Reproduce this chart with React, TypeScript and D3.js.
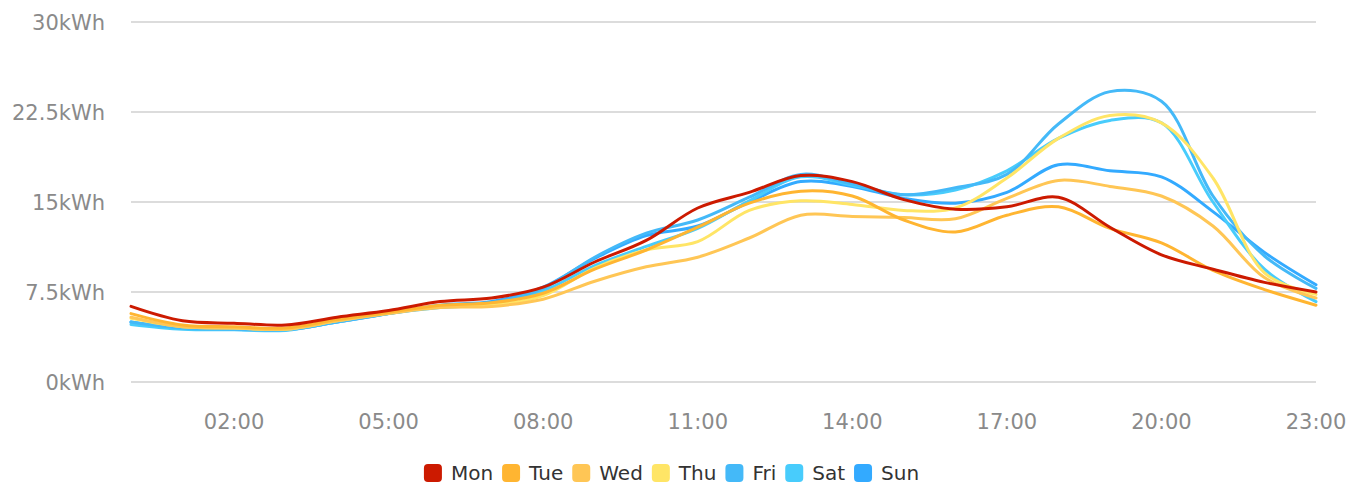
import React from "react";
import * as d3 from "d3";

const hours = d3.range(0, 24);
const xTickHours = [2, 5, 8, 11, 14, 17, 20, 23];
const yTicks = [0, 7.5, 15, 22.5, 30];
const yTickLabels = ["0kWh", "7.5kWh", "15kWh", "22.5kWh", "30kWh"];

const seriesNames = ["Mon", "Tue", "Wed", "Thu", "Fri", "Sat", "Sun"];
const seriesColors = ["#cc1a00", "#ffb531", "#ffc655", "#ffe566", "#44b9f8", "#48ccfc", "#33aaff"];

const mon = [6.3, 5.1, 4.9, 4.75, 5.4, 5.95, 6.7, 7.0, 7.9, 10.0, 11.8, 14.5, 15.8, 17.2, 16.7, 15.2, 14.4, 14.6, 15.4, 12.9, 10.6, 9.4, 8.3, 7.5];
const tue = [5.7, 4.75, 4.6, 4.5, 5.2, 5.8, 6.4, 6.6, 7.4, 9.4, 11.0, 12.9, 14.9, 15.9, 15.5, 13.5, 12.5, 13.9, 14.6, 12.8, 11.6, 9.3, 7.7, 6.4];
const wed = [5.4, 4.6, 4.5, 4.4, 5.1, 5.7, 6.2, 6.3, 6.9, 8.4, 9.6, 10.4, 12.0, 13.9, 13.8, 13.7, 13.6, 15.3, 16.8, 16.3, 15.5, 13.0, 8.7, 7.0];
const thu = [5.3, 4.6, 4.5, 4.4, 5.1, 5.8, 6.3, 6.4, 7.2, 9.5, 11.0, 11.7, 14.3, 15.1, 14.8, 14.3, 14.5, 17.0, 20.3, 22.2, 21.6, 17.0, 9.1, 7.3];
const fri = [5.0, 4.5, 4.4, 4.35, 5.0, 5.7, 6.3, 6.6, 7.8, 10.4, 12.4, 13.5, 15.4, 17.3, 16.5, 15.6, 16.2, 17.3, 21.5, 24.2, 23.4, 15.5, 10.5, 7.8];
const sat = [4.8, 4.4, 4.35, 4.3, 5.0, 5.7, 6.2, 6.5, 7.6, 9.7, 11.3, 12.8, 15.1, 17.1, 16.4, 15.6, 16.0, 17.6, 20.3, 21.8, 21.6, 15.0, 9.4, 6.7];
const sun = [5.0, 4.5, 4.4, 4.35, 5.0, 5.7, 6.4, 6.7, 7.9, 10.3, 12.2, 13.0, 15.0, 16.7, 16.3, 15.3, 14.9, 15.8, 18.1, 17.6, 17.1, 14.2, 10.8, 8.1];

const seriesValues = [mon, tue, wed, thu, fri, sat, sun];

const W = 1349;
const H = 483;
const plotLeft = 131;
const plotRight = 1316;
const plotTop = 22;
const plotBottom = 382;

const FONT = "'DejaVu Sans', Verdana, sans-serif";

function measure(text: string, size: number): number {
  const c = document.createElement("canvas");
  const ctx = c.getContext("2d");
  if (!ctx) return text.length * size * 0.6;
  ctx.font = `${size}px ${FONT}`;
  return ctx.measureText(text).width;
}

export default function App() {
  const x = d3.scaleLinear().domain([0, 23]).range([plotLeft, plotRight]);
  const y = d3.scaleLinear().domain([0, 30]).range([plotBottom, plotTop]);
  const line = d3
    .line<number>()
    .x((_, i) => x(hours[i]))
    .y((d) => y(d))
    .curve(d3.curveCatmullRom.alpha(0.5));

  // legend layout
  const legendSize = 20;
  const sw = 18;
  const gap = 9;
  const itemGap = 9;
  const widths = seriesNames.map((n) => measure(n, legendSize));
  const itemWidths = widths.map((w) => sw + gap + w);
  const total = d3.sum(itemWidths) + itemGap * (seriesNames.length - 1);
  let cursor = W / 2 - total / 2 - 3;
  const legendItems = seriesNames.map((n, i) => {
    const pos = cursor;
    cursor += itemWidths[i] + itemGap;
    return { name: n, color: seriesColors[i], x: pos };
  });
  const legendY = 473;

  const order = seriesNames.map((_, i) => i).reverse();

  return (
    <svg
      width={W}
      height={H}
      style={{ position: "absolute", left: 0, top: 0, background: "#fff" }}
      fontFamily={FONT}
    >
      {yTicks.map((t, i) => (
        <g key={t}>
          <line x1={plotLeft} x2={plotRight} y1={y(t)} y2={y(t)} stroke="#d0d0d0" strokeWidth={1.5} />
          <text x={105} y={y(t)} dy="0.36em" textAnchor="end" fontSize={21} fill="#8a8a8a">
            {yTickLabels[i]}
          </text>
        </g>
      ))}
      {xTickHours.map((h) => (
        <text key={h} x={x(h)} y={421} dy="0.36em" textAnchor="middle" fontSize={21} fill="#8a8a8a">
          {`${String(h).padStart(2, "0")}:00`}
        </text>
      ))}
      {order.map((i) => (
        <path
          key={seriesNames[i]}
          d={line(seriesValues[i]) || ""}
          fill="none"
          stroke={seriesColors[i]}
          strokeWidth={3}
          strokeLinejoin="round"
          strokeLinecap="round"
        />
      ))}
      {legendItems.map((it) => (
        <g key={it.name}>
          <rect x={it.x} y={legendY - sw / 2} width={sw} height={sw} rx={4} fill={it.color} />
          <text x={it.x + sw + gap} y={legendY} dy="0.36em" fontSize={legendSize} fill="#333">
            {it.name}
          </text>
        </g>
      ))}
    </svg>
  );
}
